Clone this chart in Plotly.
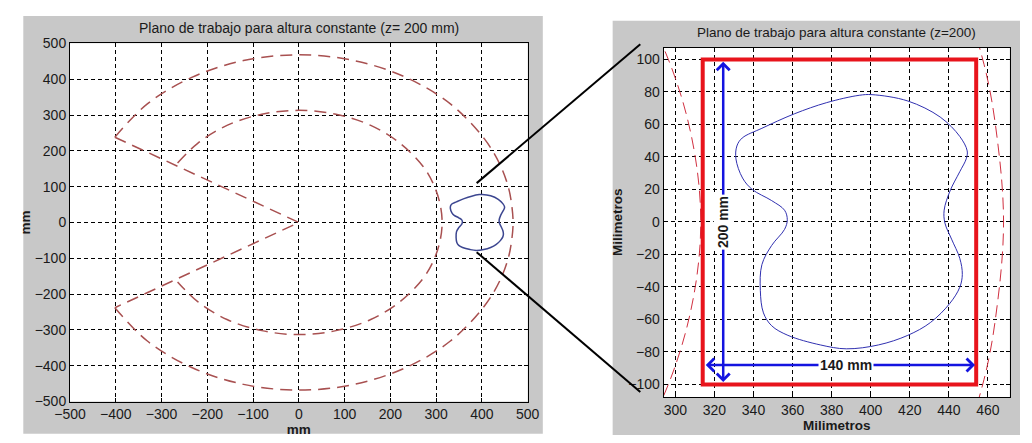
import plotly.graph_objects as go

# ---- data (mm) ----
# outer reach boundary
outer_x = [-402, -331, -234, -121, 0, 121, 234, 331, 405, 440, 458, 465, 468,
           465, 458, 440, 405, 331, 234, 121, 0, -121, -234, -331, -402]
outer_y = [238, 331, 405, 452, 468, 452, 405, 331, 234, 160, 97, 49, 0,
           -49, -97, -160, -234, -331, -405, -452, -468, -452, -405, -331, -238]
# inner reach boundary
inner_x = [-265, -221, -157, -81, 0, 81, 157, 221, 271, 294, 308, 313,
           308, 294, 271, 221, 157, 81, 0, -81, -157, -221, -265]
inner_y = [166, 221, 271, 302, 313, 302, 271, 221, 157, 107, 54, 0,
           -54, -107, -157, -221, -271, -302, -313, -302, -271, -221, -166]
# angular limits
limit_x = [-402, 0, -402]
limit_y = [238, 0, -238]
# working region contour
blob_x = [400.7, 419, 435.6, 445.6, 449.4, 448.9, 445.6, 440.6, 437.6, 438, 441.4,
          445.6, 446.9, 445.6, 440.6, 430.6, 419, 404, 387.5, 374.2, 357.6, 349.3,
          345.1, 343.5, 344.3, 349.3, 355.9, 357.3, 355.9, 349.3, 339.3, 334.4, 331,
          331.5, 334.2, 344.3, 360.9, 377.5, 394.1, 400.7]
blob_y = [78.3, 74.4, 64.5, 52.6, 43.7, 38.8, 30.9, 19, 7.2, -0.7, -10.6,
          -22.4, -32.3, -40.2, -50, -61.9, -69.8, -75.7, -78.1, -75.7, -69.8, -63.9,
          -56, -42.1, -26.3, -14.5, -4.6, 1.3, 7.2, 13.1, 20, 27, 38.8,
          46.7, 51.6, 57.6, 66.5, 73.4, 77.9, 78.3]
# working rectangle and dimensions
rect_x = [314, 454]
rect_y = [-100, 100]
dim_v_x = 324.5
dim_v_y = [-99.5, 98.5]
dim_h_x = [314.8, 453.4]
dim_h_y = -88
label_v = "200 mm"
label_h = "140 mm"
label_v_y = 0
label_h_x = 387.5

left_ticks = list(range(-500, 501, 100))
right_xticks = list(range(300, 461, 20))
right_yticks = list(range(-100, 101, 20))

left_title = "Plano de trabajo para altura constante (z= 200 mm)"
right_title = "Plano de trabajo para altura constante (z=200)"

W, H = 1032, 443


def px(x):
    return x / W


def py(y):
    return 1 - y / H


FONT = "Liberation Sans, Arial, Helvetica, sans-serif"

fig = go.Figure()

# left plot
arc_l = dict(color="#a85050", width=1.5, dash="12px,7px", shape="spline")
fig.add_trace(go.Scatter(x=outer_x, y=outer_y, mode="lines", line=arc_l, xaxis="x", yaxis="y"))
fig.add_trace(go.Scatter(x=inner_x, y=inner_y, mode="lines", line=arc_l, xaxis="x", yaxis="y"))
fig.add_trace(go.Scatter(x=limit_x, y=limit_y, mode="lines",
                         line=dict(color="#a85050", width=1.5, dash="12px,7px"), xaxis="x", yaxis="y"))
fig.add_trace(go.Scatter(x=blob_x, y=blob_y, mode="lines",
                         line=dict(color="#3c4690", width=1.5, shape="spline"), xaxis="x", yaxis="y"))

# right plot
arc_r = dict(color="#d03040", width=1, dash="12px,6px", shape="spline")
fig.add_trace(go.Scatter(x=outer_x, y=outer_y, mode="lines", line=arc_r, xaxis="x2", yaxis="y2"))
fig.add_trace(go.Scatter(x=inner_x, y=inner_y, mode="lines", line=arc_r, xaxis="x2", yaxis="y2"))
fig.add_trace(go.Scatter(x=blob_x, y=blob_y, mode="lines",
                         line=dict(color="#3030b0", width=1, shape="spline"), xaxis="x2", yaxis="y2"))

common = dict(showgrid=True, gridcolor="black", gridwidth=1, griddash="4px,3px",
              showline=True, linecolor="black", linewidth=1, mirror="ticks",
              ticks="inside", ticklen=4, tickcolor="black", zeroline=False,
              tickfont=dict(family=FONT, size=14, color="#1a1a1a"))
tfont = dict(family=FONT, size=13.5, color="#1a1a1a")

fig.update_layout(
    width=W, height=H, margin=dict(l=0, r=0, t=0, b=0),
    paper_bgcolor="white", plot_bgcolor="white", showlegend=False,
    xaxis=dict(common, domain=[px(55.5), px(526)], range=[-500, 500], tickvals=left_ticks,
               anchor="y", title=dict(text="<b>mm</b>", font=tfont, standoff=2)),
    yaxis=dict(common, domain=[py(408.3), py(36.7)], range=[-500, 500], tickvals=left_ticks,
               anchor="x", title=dict(text="<b>mm</b>", font=tfont, standoff=0)),
    xaxis2=dict(common, domain=[px(665.7), px(1021.5)], range=[294, 471.2], tickvals=right_xticks,
                anchor="y2", title=dict(text="<b>Milimetros</b>", font=tfont, standoff=2)),
    yaxis2=dict(common, domain=[py(403.5), py(41)], range=[-107.7, 107.3], tickvals=right_yticks,
                anchor="x2", title=dict(text="<b>Milimetros</b>", font=tfont, standoff=2)),
)

shapes = [
    dict(type="rect", xref="paper", yref="paper", x0=px(7.5), x1=px(541.5), y0=py(441.7), y1=py(8.3),
         fillcolor="#c8c8c8", line=dict(width=0), layer="below"),
    dict(type="rect", xref="paper", yref="paper", x0=px(613.3), x1=1, y0=0, y1=py(13.3),
         fillcolor="#c8c8c8", line=dict(width=0), layer="below"),
    dict(type="rect", xref="x domain", yref="y domain", x0=0, x1=1, y0=0, y1=1,
         fillcolor="white", line=dict(width=0), layer="below"),
    dict(type="rect", xref="x2 domain", yref="y2 domain", x0=0, x1=1, y0=0, y1=1,
         fillcolor="white", line=dict(width=0), layer="below"),
    dict(type="rect", xref="x2", yref="y2", x0=rect_x[0], x1=rect_x[1], y0=rect_y[0], y1=rect_y[1],
         line=dict(color="#e8141c", width=4), layer="above"),
    dict(type="line", xref="paper", yref="paper", x0=px(473.5), y0=py(181.7), x1=px(641.7), y1=py(37.7),
         line=dict(color="black", width=2), layer="above"),
    dict(type="line", xref="paper", yref="paper", x0=px(473.5), y0=py(253.3), x1=px(641.7), y1=py(398.3),
         line=dict(color="black", width=2), layer="above"),
]
fig.update_layout(shapes=shapes)

ann = [
    dict(text=left_title, xref="paper", yref="paper", x=px(290.7), y=py(21), showarrow=False,
         font=dict(family=FONT, size=14, color="#1a1a1a"), xanchor="center", yanchor="middle"),
    dict(text=right_title, xref="paper", yref="paper", x=px(843), y=py(25), showarrow=False,
         font=dict(family=FONT, size=13.5, color="#1a1a1a"), xanchor="center", yanchor="middle"),
    # dimension arrows
    dict(x=dim_v_x, y=dim_v_y[1], ax=dim_v_x, ay=dim_v_y[0], xref="x2", yref="y2", axref="x2", ayref="y2",
         text="", showarrow=True, arrowside="end+start", arrowhead=4, arrowsize=1,
         arrowwidth=2.5, arrowcolor="#1414e0", standoff=0, startstandoff=0),
    dict(x=dim_h_x[1], y=dim_h_y, ax=dim_h_x[0], ay=dim_h_y, xref="x2", yref="y2", axref="x2", ayref="y2",
         text="", showarrow=True, arrowside="end+start", arrowhead=4, arrowsize=1,
         arrowwidth=2.5, arrowcolor="#1414e0", standoff=0, startstandoff=0),
    dict(text="<b>" + label_v + "</b>", x=dim_v_x, y=label_v_y, xref="x2", yref="y2", showarrow=False,
         textangle=-90, bgcolor="white", font=dict(family=FONT, size=14, color="#1a1a1a"), borderpad=1),
    dict(text="<b>" + label_h + "</b>", x=label_h_x, y=dim_h_y, xref="x2", yref="y2", showarrow=False,
         bgcolor="white", font=dict(family=FONT, size=14, color="#1a1a1a"), borderpad=1),
]
fig.update_layout(annotations=ann)

# remove the default page margin so the figure sits at the window's top-left corner
fig.write_html("out.html", config={"staticPlot": True},
               post_script="document.body.style.margin='0';")
